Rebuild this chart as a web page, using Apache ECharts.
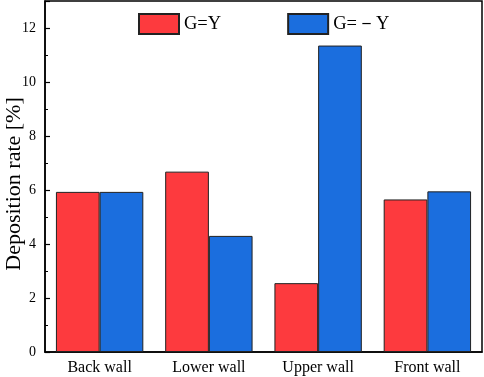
<!DOCTYPE html>
<html><head><meta charset="utf-8">
<script src="https://cdn.jsdelivr.net/npm/echarts@6/dist/echarts.min.js"></script>
<style>html,body{margin:0;padding:0;background:#fff}#c{width:484px;height:377px}</style>
</head><body><div id="c"></div>
<script>
const categories = ['Back wall', 'Lower wall', 'Upper wall', 'Front wall'];
const seriesNames = ['G=Y', 'G=－Y'];
const valuesGY = [5.93, 6.68, 2.55, 5.65];
const valuesGnY = [5.93, 4.30, 11.35, 5.95];
const yTicks = [0, 2, 4, 6, 8, 10, 12];
const yAxisTitle = 'Deposition rate [%]';

const font = '"Liberation Serif", "Times New Roman", serif';
const chart = echarts.init(document.getElementById('c'));
chart.setOption({
  animation: false,
  textStyle: { fontFamily: font },
  grid: { left: 45, right: 2, top: 1, bottom: 25, show: true, borderColor: '#000', borderWidth: 1.5,
    containLabel: false, outerBoundsMode: 'none' },
  legend: {
    left: 138, top: 13, padding: 0, itemWidth: 40, itemHeight: 20, itemGap: 66, icon: 'rect',
    textStyle: { fontFamily: font, fontSize: 18.5, color: '#000' },
    data: seriesNames
  },
  graphic: [{
    type: 'text', x: 14, y: 184, rotation: Math.PI / 2,
    style: { text: yAxisTitle, fontFamily: font, fontSize: 22, fill: '#000',
      align: 'center', verticalAlign: 'middle' }
  }],
  xAxis: {
    type: 'category', data: categories,
    axisLine: { lineStyle: { color: '#000', width: 1.5 } },
    axisTick: { show: false },
    axisLabel: { fontFamily: font, fontSize: 16, color: '#000', margin: 8 }
  },
  yAxis: {
    type: 'value', min: 0, max: 13, interval: 2,
    axisLine: { show: true, lineStyle: { color: '#000', width: 1.5 } },
    axisTick: { show: true, inside: true, length: 5, lineStyle: { color: '#000', width: 1.2 } },
    minorTick: { show: true, splitNumber: 2, length: 3, lineStyle: { color: '#000', width: 1 } },
    splitLine: { show: false },
    axisLabel: { fontFamily: font, fontSize: 14, color: '#000', margin: 9,
      formatter: v => yTicks.includes(v) ? String(v) : '' }
  },
  series: [
    { name: seriesNames[0], type: 'bar', data: valuesGY, barGap: '0%', barCategoryGap: '20%',
      itemStyle: { color: '#FD3A3E', borderColor: '#222', borderWidth: 1 } },
    { name: seriesNames[1], type: 'bar', data: valuesGnY, barGap: '0%', barCategoryGap: '20%',
      itemStyle: { color: '#1B6EDE', borderColor: '#222', borderWidth: 1 } }
  ]
});
</script></body></html>
